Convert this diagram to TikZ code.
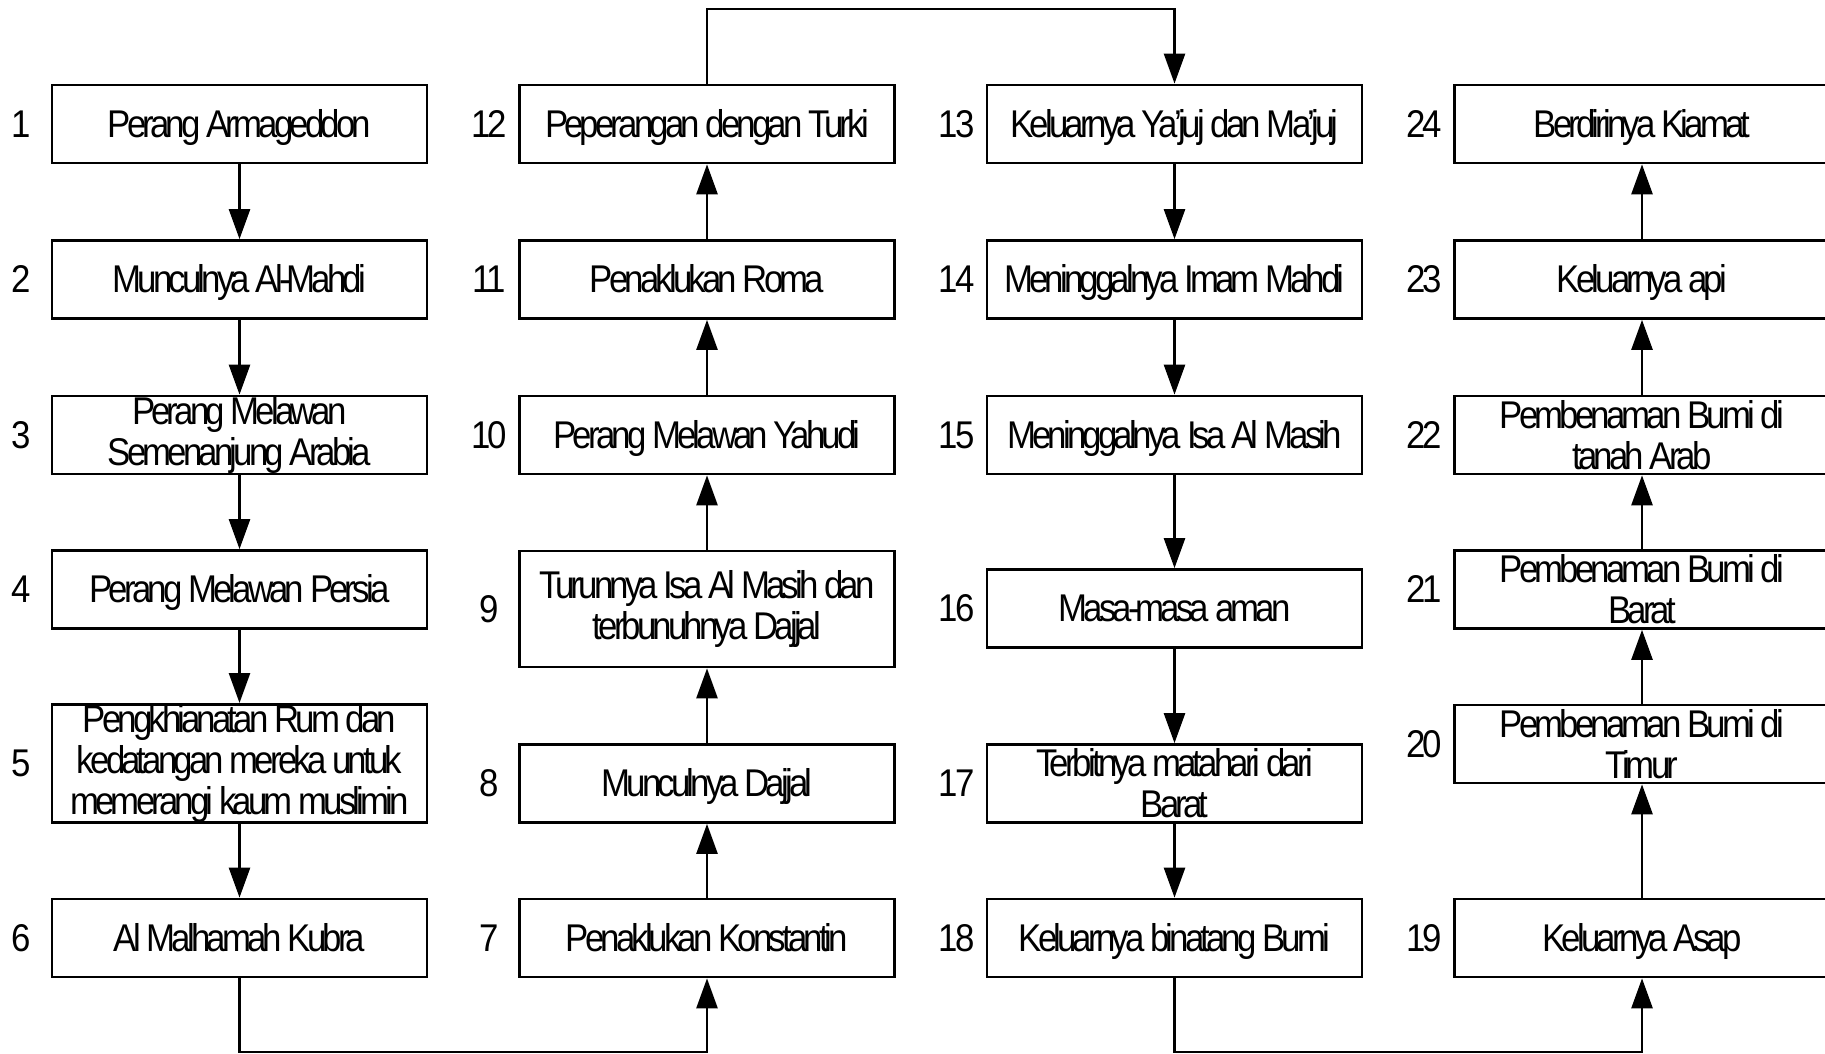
\documentclass[tikz,border=0pt]{standalone}
\usepackage{fontspec}
\setmainfont{Liberation Sans}
\newfontfamily\kotakfont{Liberation Sans}[FakeStretch=0.9, LetterSpace=-10]
\newfontfamily\nomorfont{Liberation Sans}[FakeStretch=0.9, LetterSpace=-7]
\usetikzlibrary{arrows.meta}

\tikzset{
  kotakdua/.style={draw, line width=0.8pt, minimum width=3.75cm, minimum height=0.78cm,
    inner sep=0pt, align=center, font=\kotakfont\fontsize{11}{11.7}\selectfont},
  kotak/.style={kotakdua, text height=9.9pt, text depth=2.3pt},
  nomor/.style={inner sep=0pt, font=\nomorfont\fontsize{11}{12}\selectfont},
}

\begin{document}
\begin{tikzpicture}[>={Triangle[length=8.5pt,width=6pt]}, line width=0.6pt]
\useasboundingbox (0,0) rectangle (18.25,10.54);

% Kolom 1
\node[kotak] (b1) at (2.395,9.30) {Perang Armageddon};
\node[kotak] (b2) at (2.395,7.745) {Munculnya Al-Mahdi};
\node[kotakdua] (b3) at (2.395,6.19) {Perang Melawan\\Semenanjung Arabia};
\node[kotak] (b4) at (2.395,4.645) {Perang Melawan Persia};
\node[kotakdua, minimum height=1.17cm] (b5) at (2.395,2.905) {Pengkhianatan Rum dan\\kedatangan mereka untuk\\memerangi kaum muslimin};
\node[kotak] (b6) at (2.395,1.16) {Al Malhamah Kubra};

% Kolom 2
\node[kotak] (b7) at (7.07,1.16) {Penaklukan Konstantin};
\node[kotak] (b8) at (7.07,2.705) {Munculnya Dajjal};
\node[kotakdua, minimum height=1.16cm] (b9) at (7.07,4.45) {Turunnya Isa Al Masih dan\\terbunuhnya Dajjal};
\node[kotak] (b10) at (7.07,6.19) {Perang Melawan Yahudi};
\node[kotak] (b11) at (7.07,7.745) {Penaklukan Roma};
\node[kotak] (b12) at (7.07,9.30) {Peperangan dengan Turki};

% Kolom 3
\node[kotak] (b13) at (11.745,9.30) {Keluarnya Ya’juj dan Ma’juj};
\node[kotak] (b14) at (11.745,7.745) {Meninggalnya Imam Mahdi};
\node[kotak] (b15) at (11.745,6.19) {Meninggalnya Isa Al Masih};
\node[kotak] (b16) at (11.745,4.455) {Masa-masa aman};
\node[kotakdua] (b17) at (11.745,2.705) {Terbitnya matahari dari\\Barat};
\node[kotak] (b18) at (11.745,1.16) {Keluarnya binatang Bumi};

% Kolom 4
\node[kotak] (b19) at (16.42,1.16) {Keluarnya Asap};
\node[kotakdua] (b20) at (16.42,3.10) {Pembenaman Bumi di\\Timur};
\node[kotakdua] (b21) at (16.42,4.645) {Pembenaman Bumi di\\Barat};
\node[kotakdua] (b22) at (16.42,6.19) {Pembenaman Bumi di\\tanah Arab};
\node[kotak] (b23) at (16.42,7.745) {Keluarnya api};
\node[kotak] (b24) at (16.42,9.30) {Berdirinya Kiamat};

% Nomor urut
\foreach \i in {1,...,24} {
  \node[nomor] (n\i) at ([xshift=-2.9mm]b\i.west) {\i};
}

% Panah antar kotak
\foreach \a/\b in {1/2,2/3,3/4,4/5,5/6, 7/8,8/9,9/10,10/11,11/12,
                   13/14,14/15,15/16,16/17,17/18, 19/20,20/21,21/22,22/23,23/24} {
  \draw[->] (b\a) -- (b\b);
}

% Sambungan atas dan bawah
\coordinate (atas) at (0,10.45);
\coordinate (bawah) at (0,0.02);
\draw[->] (b12.north) -- (b12.north |- atas) -- (b13.north |- atas) -- (b13.north);
\draw[->] (b6.south) -- (b6.south |- bawah) -- (b7.south |- bawah) -- (b7.south);
\draw[->] (b18.south) -- (b18.south |- bawah) -- (b19.south |- bawah) -- (b19.south);

\end{tikzpicture}
\end{document}
